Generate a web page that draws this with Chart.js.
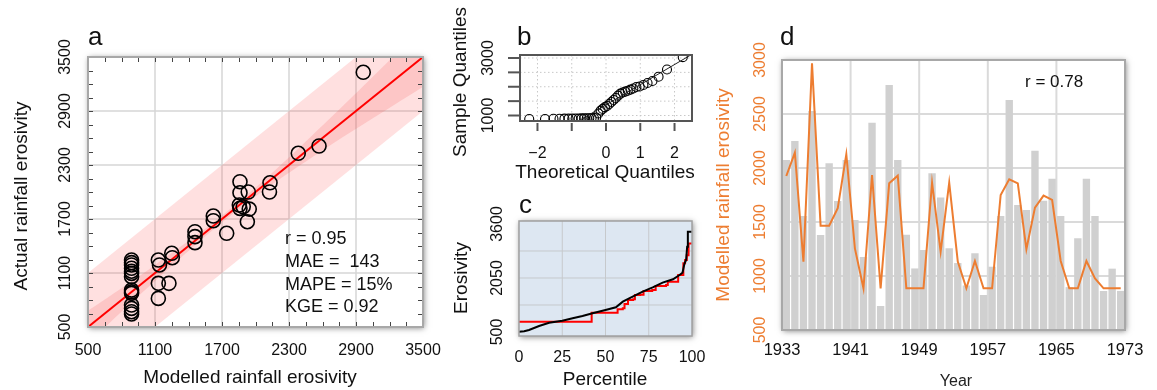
<!DOCTYPE html>
<html><head><meta charset="utf-8">
<script src="https://cdn.jsdelivr.net/npm/chart.js@4.4.1/dist/chart.umd.min.js"></script>
<style>
html,body{margin:0;padding:0;background:#fff;}
#wrap{position:relative;width:1157px;height:390px;overflow:hidden;background:#fff;}
#wrap canvas{position:absolute;left:0;top:0;width:1157px;height:390px;}
</style></head><body>
<div id="wrap">
<canvas id="ca" width="1157" height="390"></canvas>
<canvas id="cb" width="1157" height="390"></canvas>
<canvas id="cc" width="1157" height="390"></canvas>
<canvas id="cd" width="1157" height="390"></canvas>
</div>
<script>
// ---------------- Panel a: modelled vs actual ----------------
const aModelled = [890,890,890,890,890,890,890,890,890,890,890,890,890,890,1130,1140,1130,1225,1130,1250,1255,1458,1458,1458,1622,1622,1742,1861,1861,1935,1855,1890,1861,1944,1927,2130,2125,2383,2569,2965];
const aActual   = [1244,1215,1189,1152,1120,1096,1059,911,890,874,744,707,670,645,1244,1189,985,985,818,1319,1270,1559,1504,1437,1733,1681,1541,2114,1992,2000,1855,1835,1818,1810,1670,2102,2000,2430,2511,3330];
const aTicks = [500,1100,1700,2300,2900,3500];
const aStats = ['r = 0.95','MAE =  143','MAPE = 15%','KGE = 0.92'];
const aLineX = [500,3500], aLineY = [500,3500];
const aWideX = [500,3500], aWideUp = [1100,4100], aWideLo = [-100,2900];
const aNarX = [500,1100,1800,2500,3500], aNarUp = [680,1190,1840,2620,3830], aNarLo = [320,1010,1760,2380,3170];

// ---------------- Panel b: QQ plot ----------------
const bTheo = [-2.241,-1.780,-1.534,-1.356,-1.213,-1.092,-0.984,-0.887,-0.798,-0.714,-0.636,-0.561,-0.489,-0.420,-0.352,-0.286,-0.221,-0.157,-0.094,-0.031,0.031,0.094,0.157,0.221,0.286,0.352,0.420,0.489,0.561,0.636,0.714,0.798,0.887,0.984,1.092,1.213,1.356,1.534,1.780,2.241];
const bSample = [880,880,885,885,890,890,890,895,895,900,900,905,905,910,915,930,1070,1170,1230,1290,1330,1400,1470,1540,1610,1690,1760,1800,1830,1860,1900,1940,1990,2010,2060,2130,2200,2350,2600,3030];
const bLineX = [-0.8,2.51], bLineY = [810,3130];
const bXTicks = [-2,-1,0,1,2], bXLabels = ['\u22122','','0','1','2'];
const bYTicks = [1000,1500,2000,2500,3000], bYLabels = ['1000','','','','3000'];

// ---------------- Panel c: sorted curves ----------------
const cPctA = [0,3,5.8,11.6,17.4,25,31,36.7,42.5,50,56,60,65.7,71.5,77.3,83,89,92.8,94.5,95.7,96.6,97.2,97.6,100];
const cValA = [509,520,557,672,767,824,893,959,1036,1131,1209,1370,1514,1657,1782,1916,2012,2136,2200,2472,2566,2948,3379,3379];
const cPctM = [0,40.5,42,55,57,60,61,63,66,67,70,72,77,79,85,86,91,92,94,95,96,97,98,100];
const cValM = [796,796,1055,1055,1150,1180,1300,1418,1440,1562,1570,1680,1705,1820,1849,1944,1944,2136,2136,2470,2566,2700,3040,3040];
const cXTicks = [0,25,50,75,100];
const cYGrid = [1275,2050,2825];
const cYTicks = [500,2050,3600];

// ---------------- Panel d: time series ----------------
const dYears = [1933,1934,1935,1936,1937,1938,1939,1940,1941,1942,1943,1944,1945,1946,1947,1948,1949,1950,1951,1952,1953,1954,1955,1956,1957,1958,1959,1960,1961,1962,1963,1964,1965,1966,1967,1968,1969,1970,1971,1972];
const dActual = [2074,2250,1556,2528,1380,2043,1695,2074,1518,1176,2420,722,2768,2074,1383,1070,1241,1951,1726,1256,1120,912,1210,824,1086,1556,2630,1657,1610,2160,1697,1900,1556,897,1349,1900,1556,862,1068,862];
const dModelled = [1926,2142,1133,2969,1466,1466,1627,2127,1256,886,1935,886,1858,1929,886,886,886,1864,1225,1864,1133,886,1139,886,886,1750,1895,1858,1247,1633,1744,1704,1139,886,886,1139,978,886,886,886];
const dXTicks = [1933,1941,1949,1957,1965,1973];
const dYTicks = [500,1000,1500,2000,2500,3000];

// ---------------- helpers ----------------
const FF = '"Liberation Sans", Arial, Helvetica, sans-serif';
Chart.defaults.font.family = FF;
Chart.defaults.animation = false;
function T(ctx, s, x, y, size, opt) {
  opt = opt || {};
  ctx.save();
  ctx.font = size + 'px ' + FF;
  ctx.fillStyle = opt.color || '#111';
  ctx.textAlign = opt.align || 'center';
  ctx.textBaseline = 'alphabetic';
  ctx.translate(x, y);
  if (opt.rot) ctx.rotate(-Math.PI / 2);
  ctx.fillText(s, 0, 0);
  ctx.restore();
}
function L(ctx, x1, y1, x2, y2) { ctx.beginPath(); ctx.moveTo(x1, y1); ctx.lineTo(x2, y2); ctx.stroke(); }
function pad(l, t, r, b) { return { left: l, top: t, right: 1157 - r, bottom: 390 - b }; }
function pts(xs, ys) { return xs.map((v, i) => ({ x: v, y: ys[i] })); }
function shadowBox(ctx, ca, fill) {
  ctx.save();
  ctx.shadowColor = 'rgba(0,0,0,0.5)'; ctx.shadowBlur = 6; ctx.shadowOffsetX = 1; ctx.shadowOffsetY = 1;
  ctx.fillStyle = fill; ctx.fillRect(ca.left, ca.top, ca.right - ca.left, ca.bottom - ca.top);
  ctx.restore();
}
function border(ctx, ca, color, w) {
  ctx.save(); ctx.strokeStyle = color; ctx.lineWidth = w;
  ctx.strokeRect(ca.left, ca.top, ca.right - ca.left, ca.bottom - ca.top); ctx.restore();
}
const baseOpts = (padding, scales) => ({
  responsive: false, animation: false, layout: { padding },
  plugins: { legend: { display: false }, tooltip: { enabled: false } },
  scales
});

// ---------------- Chart a ----------------
const plugA = {
  id: 'plugA',
  beforeDraw(chart) {
    const { ctx, chartArea: ca, scales: { x, y } } = chart;
    shadowBox(ctx, ca, '#fff');
    ctx.save(); ctx.strokeStyle = '#d6d6d6'; ctx.lineWidth = 1.5;
    aTicks.forEach(v => {
      const px = x.getPixelForValue(v), py = y.getPixelForValue(v);
      L(ctx, px, ca.top, px, ca.bottom); L(ctx, ca.left, py, ca.right, py);
    });
    ctx.restore();
  },
  afterDraw(chart) {
    const { ctx, chartArea: ca, scales: { x, y } } = chart;
    ctx.save(); ctx.strokeStyle = '#444'; ctx.lineWidth = 1;
    for (let v = 650; v < 3500; v += 150) {
      const px = Math.round(x.getPixelForValue(v)) + 0.5, py = Math.round(y.getPixelForValue(v)) + 0.5;
      L(ctx, px, ca.top, px, ca.top + 5); L(ctx, px, ca.bottom, px, ca.bottom - 5);
      L(ctx, ca.left, py, ca.left + 5, py); L(ctx, ca.right, py, ca.right - 5, py);
    }
    ctx.restore();
    border(ctx, ca, '#a8a8a8', 2);
    aTicks.forEach(v => {
      T(ctx, String(v), x.getPixelForValue(v), 355, 16);
      T(ctx, String(v), 70, y.getPixelForValue(v), 16, { rot: true });
    });
    T(ctx, 'Modelled rainfall erosivity', 250, 383, 19);
    T(ctx, 'Actual rainfall erosivity', 27, 196, 19, { rot: true });
    T(ctx, 'a', 88, 45, 26, { align: 'left' });
    const bl = [244, 267, 290, 312];
    aStats.forEach((s, i) => T(ctx, s, 285, bl[i], 18, { align: 'left' }));
  }
};
new Chart(document.getElementById('ca'), {
  type: 'scatter',
  data: { datasets: [
    { type: 'scatter', data: pts(aModelled, aActual), pointRadius: 7, borderColor: '#000', borderWidth: 1.6, backgroundColor: 'rgba(0,0,0,0)' },
    { type: 'line', data: pts(aLineX, aLineY), borderColor: '#ff0000', borderWidth: 2, pointRadius: 0, fill: false },
    { type: 'line', data: pts(aNarX, aNarLo), borderWidth: 0, pointRadius: 0, fill: '+1', backgroundColor: 'rgba(240,60,60,0.16)', tension: 0.4 },
    { type: 'line', data: pts(aNarX, aNarUp), borderWidth: 0, pointRadius: 0, fill: false, tension: 0.4 },
    { type: 'line', data: pts(aWideX, aWideLo), borderWidth: 0, pointRadius: 0, fill: '+1', backgroundColor: 'rgba(255,60,60,0.16)' },
    { type: 'line', data: pts(aWideX, aWideUp), borderWidth: 0, pointRadius: 0, fill: false }
  ] },
  options: baseOpts(pad(88, 57, 423, 327), {
    x: { type: 'linear', display: false, min: 500, max: 3500 },
    y: { type: 'linear', display: false, min: 500, max: 3500 }
  }),
  plugins: [plugA]
});

// ---------------- Chart b ----------------
const plugB = {
  id: 'plugB',
  beforeDraw(chart) {
    const { ctx, chartArea: ca, scales: { x, y } } = chart;
    ctx.save(); ctx.fillStyle = '#fff'; ctx.fillRect(ca.left, ca.top, ca.right - ca.left, ca.bottom - ca.top);
    ctx.strokeStyle = '#c8c8c8'; ctx.lineWidth = 1; ctx.setLineDash([1.5, 2.5]);
    bXTicks.forEach(v => { const px = x.getPixelForValue(v); L(ctx, px, ca.top, px, ca.bottom); });
    bYTicks.forEach(v => { const py = y.getPixelForValue(v); L(ctx, ca.left, py, ca.right, py); });
    ctx.restore();
  },
  afterDraw(chart) {
    const { ctx, chartArea: ca, scales: { x, y } } = chart;
    border(ctx, ca, '#555', 2);
    ctx.save(); ctx.strokeStyle = '#555'; ctx.lineWidth = 2;
    bXTicks.forEach((v, i) => {
      const px = x.getPixelForValue(v);
      L(ctx, px, ca.bottom + 2, px, ca.bottom + 10);
      if (bXLabels[i]) T(ctx, bXLabels[i], px, 158, 16);
    });
    bYTicks.forEach((v, i) => {
      const py = y.getPixelForValue(v);
      L(ctx, ca.left - 12, py, ca.left - 1, py);
      if (bYLabels[i]) T(ctx, bYLabels[i], 493, py, 16, { rot: true });
    });
    ctx.restore();
    T(ctx, 'Theoretical Quantiles', 605, 178, 19);
    T(ctx, 'Sample Quantiles', 466, 82, 19, { rot: true });
    T(ctx, 'b', 517, 45, 26, { align: 'left' });
  }
};
new Chart(document.getElementById('cb'), {
  type: 'scatter',
  data: { datasets: [
    { type: 'line', data: pts(bLineX, bLineY), borderColor: '#222', borderWidth: 1, pointRadius: 0, fill: false },
    { type: 'scatter', data: pts(bTheo, bSample), pointRadius: 4.5, borderColor: '#000', borderWidth: 1.1, backgroundColor: 'rgba(0,0,0,0)' }
  ] },
  options: baseOpts(pad(520, 55, 692, 121), {
    x: { type: 'linear', display: false, min: -2.51, max: 2.51 },
    y: { type: 'linear', display: false, min: 809, max: 3104 }
  }),
  plugins: [plugB]
});

// ---------------- Chart c ----------------
const plugC = {
  id: 'plugC',
  beforeDraw(chart) {
    const { ctx, chartArea: ca, scales: { x, y } } = chart;
    shadowBox(ctx, ca, '#dde7f2');
    ctx.save(); ctx.strokeStyle = '#c6c9cc'; ctx.lineWidth = 1;
    cXTicks.slice(1, -1).forEach(v => { const px = x.getPixelForValue(v); L(ctx, px, ca.top, px, ca.bottom); });
    cYGrid.forEach(v => { const py = y.getPixelForValue(v); L(ctx, ca.left, py, ca.right, py); });
    ctx.restore();
  },
  afterDraw(chart) {
    const { ctx, chartArea: ca, scales: { x, y } } = chart;
    border(ctx, ca, '#a0a0a0', 1.5);
    cXTicks.forEach(v => T(ctx, String(v), x.getPixelForValue(v), 362, 16));
    cYTicks.forEach(v => T(ctx, String(v), 502, y.getPixelForValue(v), 16, { rot: true }));
    T(ctx, 'Percentile', 605, 385, 19);
    T(ctx, 'Erosivity', 467, 278, 19, { rot: true });
    T(ctx, 'c', 519, 213, 26, { align: 'left' });
  }
};
new Chart(document.getElementById('cc'), {
  type: 'line',
  data: { datasets: [
    { data: pts(cPctA, cValA), borderColor: '#000', borderWidth: 2, pointRadius: 0, fill: false },
    { data: pts(cPctM, cValM), borderColor: '#ff0000', borderWidth: 2, pointRadius: 0, fill: false, stepped: 'before' }
  ] },
  options: baseOpts(pad(519, 221, 692, 336), {
    x: { type: 'linear', display: false, min: 0, max: 100 },
    y: { type: 'linear', display: false, min: 385, max: 3686 }
  }),
  plugins: [plugC]
});

// ---------------- Chart d ----------------
const ORANGE = '#ED7D31';
const plugD = {
  id: 'plugD',
  beforeDraw(chart) {
    const { ctx, chartArea: ca, scales } = chart;
    shadowBox(ctx, ca, '#fff');
    const xt = scales.xt, y = scales.y;
    ctx.save(); ctx.strokeStyle = '#dadada'; ctx.lineWidth = 2;
    dXTicks.forEach(v => { const px = xt.getPixelForValue(v); L(ctx, px, ca.top, px, ca.bottom); });
    dYTicks.forEach(v => { const py = y.getPixelForValue(v); L(ctx, ca.left, py, ca.right, py); });
    ctx.restore();
  },
  afterDraw(chart) {
    const { ctx, chartArea: ca, scales } = chart;
    const xt = scales.xt, y = scales.y;
    border(ctx, ca, '#a8a8a8', 2);
    dXTicks.forEach(v => T(ctx, String(v), xt.getPixelForValue(v), 355, 16.5));
    dYTicks.forEach(v => T(ctx, String(v), 765, y.getPixelForValue(v), 16, { rot: true, color: ORANGE }));
    T(ctx, 'Modelled rainfall erosivity', 729, 195, 19, { rot: true, color: ORANGE });
    T(ctx, 'Year', 956, 386, 16, { color: '#222' });
    T(ctx, 'r = 0.78', 1025, 87, 17, { align: 'left' });
    T(ctx, 'd', 780, 45, 26, { align: 'left' });
  }
};
new Chart(document.getElementById('cd'), {
  type: 'bar',
  data: { labels: dYears, datasets: [
    { type: 'line', data: dModelled, borderColor: ORANGE, borderWidth: 2, pointRadius: 0, tension: 0, fill: false, xAxisID: 'x', yAxisID: 'y', order: 0 },
    { type: 'bar', data: dActual, backgroundColor: '#d0d0d0', barPercentage: 0.86, categoryPercentage: 1, xAxisID: 'x', yAxisID: 'y', order: 1 }
  ] },
  options: baseOpts(pad(782, 60, 1125, 330), {
    x: { type: 'category', display: false, offset: true },
    xt: { type: 'linear', axis: 'x', display: false, offset: false, grid: { offset: false }, min: 1933, max: 1973 },
    y: { type: 'linear', display: false, min: 500, max: 3000 }
  }),
  plugins: [plugD]
});
</script>
</body></html>
